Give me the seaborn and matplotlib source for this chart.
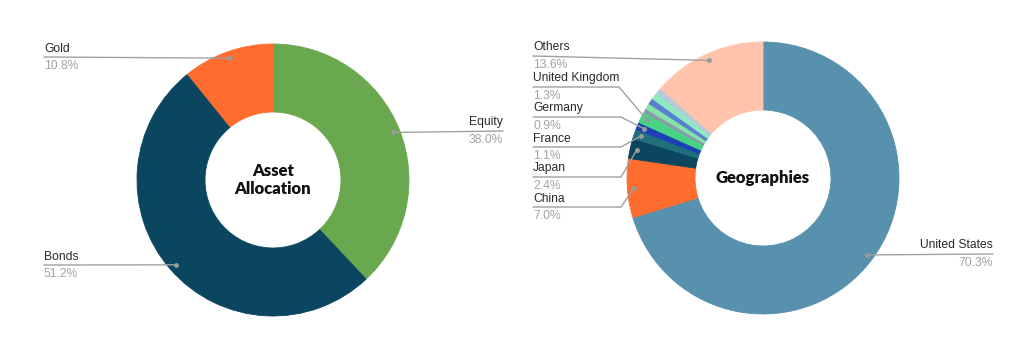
import numpy as np
import matplotlib.pyplot as plt
import seaborn as sns

# Asset allocation donut
asset_labels = ["Equity", "Bonds", "Gold"]
asset_values = [38.0, 51.2, 10.8]
asset_colors = ["#6aa84f", "#0b4661", "#ff6d2e"]

# Geographies donut (the five thin unlabeled slices sit between UK and Others)
geo_labels = ["United States", "China", "Japan", "France", "Germany", "United Kingdom",
              "", "", "", "", "", "Others"]
geo_values = [70.3, 7.0, 2.4, 1.1, 0.9, 1.3, 0.5, 0.7, 0.7, 0.8, 0.7, 13.6]
geo_colors = ["#5891ae", "#ff6d2e", "#0b4661", "#1f6f7a", "#1c3fb5", "#47d383",
              "#8a9aa8", "#86e3a8", "#5a7ed0", "#8eeac0", "#b4cbd8", "#ffc4ab"]

W, H = 1024, 364
sns.set_theme(style="white")
plt.rcParams["font.family"] = ["Liberation Sans", "DejaVu Sans"]

name_col = "#2a2a2a"
pct_col = "#a3a3a3"
line_col = "#a0a0a0"

# label layout: (text x, line y in px from top, alignment, bend x or None)
asset_layout = {
    "Equity": (503, 131, "right", None),
    "Bonds": (44, 265, "left", None),
    "Gold": (44, 57, "left", None),
}
geo_layout = {
    "United States": (993, 254, "right", None),
    "China": (533, 207, "left", 621),
    "Japan": (533, 177, "left", 621),
    "France": (533, 147, "left", 621),
    "Germany": (533, 117, "left", 621),
    "United Kingdom": (533, 87, "left", 619),
    "Others": (533, 56, "left", None),
}


def Y(y):
    return H - y


def donut(ax, labels, values, colors, cx, cy, R, layout, title):
    wedges, _ = ax.pie(values, colors=colors, startangle=90, counterclock=False,
                       radius=R, center=(cx, Y(cy)),
                       wedgeprops=dict(width=R * 0.5, linewidth=0.6))
    for w in wedges:
        w.set_edgecolor(w.get_facecolor())
    total = sum(values)
    cum = 0
    for lab, v in zip(labels, values):
        mid = np.deg2rad(90 - 360 * (cum + v / 2) / total)
        cum += v
        if not lab:
            continue
        dx = cx + 0.95 * R * np.cos(mid)
        dy = Y(cy) + 0.95 * R * np.sin(mid)
        tx, ly, ha, bend = layout[lab]
        xs = [tx]
        ys = [Y(ly)]
        if bend is not None:
            xs.append(bend)
            ys.append(Y(ly))
        xs.append(dx)
        ys.append(dy)
        ax.plot(xs, ys, color=line_col, lw=1, zorder=3)
        ax.plot(dx, dy, "o", color="#9a9a9a", ms=2.5, zorder=4)
        ax.text(tx, Y(ly) + 2.5, lab, ha=ha, va="bottom", fontsize=8.7, color=name_col)
        ax.text(tx, Y(ly) - 3, f"{v:.1f}%", ha=ha, va="top", fontsize=8.7, color=pct_col)
    ax.text(cx, Y(cy), title, ha="center", va="center", fontsize=12,
            fontweight="heavy", color="#111111", linespacing=1.15,
            family=["Lato", "DejaVu Sans"])


fig = plt.figure(figsize=(W / 100, H / 100), dpi=100)
ax = fig.add_axes([0, 0, 1, 1])
donut(ax, asset_labels, asset_values, asset_colors, 273, 180, 136, asset_layout,
      "Asset\nAllocation")
donut(ax, geo_labels, geo_values, geo_colors, 763, 178, 136, geo_layout, "Geographies")
ax.set_xlim(0, W)
ax.set_ylim(0, H)
ax.set_aspect("equal")
ax.axis("off")
fig.savefig("out.png", dpi=100, facecolor="white")
